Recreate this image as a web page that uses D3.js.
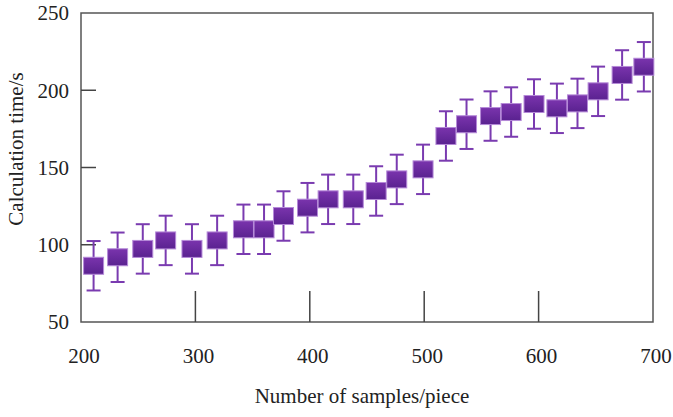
<!DOCTYPE html>
<html>
<head>
<meta charset="utf-8">
<script src="https://cdn.jsdelivr.net/npm/d3@7"></script>
<style>
    body { margin: 0; background: #fff; }
    svg { display: block; }
    text { font-family: 'Liberation Serif', 'Times New Roman', Times, serif; fill: #222; }
    .frame { fill: none; stroke: #555; stroke-width: 1.5; }
    .tick-mark { stroke: #444; stroke-width: 1.5; }
    .err { stroke: #7a3bb0; stroke-width: 2; fill: none; }
    .box { stroke: #b58ad8; stroke-width: 1; }
</style>
</head>
<body>
<svg id="chart" width="673" height="417">
    <defs>
        <linearGradient id="boxGrad" x1="0" y1="0" x2="0" y2="1">
            <stop offset="0" stop-color="#7a34ad"></stop>
            <stop offset="1" stop-color="#5a2290"></stop>
        </linearGradient>
    </defs>
    <g class="chart"></g>
</svg>
<script>
// samples per piece (x), mean calculation time (y), +/- spread
const samples = [211, 232, 254, 274, 297, 319, 342, 360, 377, 398, 416, 438, 458, 476, 499,
                 519, 537, 558, 576, 596, 616, 634, 652, 673, 692];
const calcTime = [86.4, 91.9, 97.3, 102.8, 97.3, 102.8, 110, 110, 118.6, 124, 129.4, 129.4, 134.8, 142.3, 148.8,
                  170.4, 178, 183.3, 185.9, 191.1, 188.3, 191.5, 199.3, 209.9, 215.2];
const spread = [16, 16, 16, 16, 16, 16, 16, 16, 16, 16, 16, 16, 16, 16, 16,
                16, 16, 16, 16, 16, 16, 16, 16, 16, 16];
const xTicks = [200, 300, 400, 500, 600, 700];
const yTicks = [50, 100, 150, 200, 250];

const margin = {top: 13, right: 20, bottom: 95, left: 81};
const width = 673 - margin.left - margin.right;
const height = 417 - margin.top - margin.bottom;
const fontSize = '21px';

const chart = d3.select('#chart').select('.chart')
    .attr('transform', 'translate(' + margin.left + ',' + margin.top + ')');

const xScale = d3.scaleLinear().domain([200, 700]).range([0, width]);
const yScale = d3.scaleLinear().domain([50, 250]).range([height, 0]);

// frame
chart.append('rect').attr('class', 'frame')
    .attr('x', 0).attr('y', 0).attr('width', width).attr('height', height);

// inward ticks
chart.selectAll('.xt').data(xTicks.slice(1, -1)).enter().append('line')
    .attr('class', 'tick-mark')
    .attr('x1', d => xScale(d)).attr('x2', d => xScale(d))
    .attr('y1', height).attr('y2', height - 31);
chart.selectAll('.yt').data(yTicks.slice(1, -1)).enter().append('line')
    .attr('class', 'tick-mark')
    .attr('x1', 0).attr('x2', 15)
    .attr('y1', d => yScale(d)).attr('y2', d => yScale(d));

// tick labels
chart.selectAll('.xl').data(xTicks).enter().append('text')
    .attr('x', d => xScale(d) + 3).attr('y', height + 41)
    .attr('text-anchor', 'middle').style('font-size', fontSize)
    .text(d => d);
chart.selectAll('.yl').data(yTicks).enter().append('text')
    .attr('x', -12).attr('y', d => yScale(d)).attr('dy', '0.35em')
    .attr('text-anchor', 'end').style('font-size', fontSize)
    .text(d => d);

// titles
chart.append('text')
    .attr('x', 362 - margin.left).attr('y', 403 - margin.top)
    .attr('text-anchor', 'middle').style('font-size', fontSize)
    .text('Number of samples/piece');
chart.append('text')
    .attr('transform', 'translate(' + (23 - margin.left) + ',' + (149 - margin.top) + ') rotate(-90)')
    .attr('text-anchor', 'middle').style('font-size', fontSize)
    .text('Calculation time/s');

const vals = samples.map((s, i) => ({x: s, y: calcTime[i], e: spread[i]}));

// error bars
const bars = chart.append('g').selectAll('g').data(vals).enter().append('g');
bars.append('line').attr('class', 'err')
    .attr('x1', d => xScale(d.x)).attr('x2', d => xScale(d.x))
    .attr('y1', d => yScale(d.y + d.e)).attr('y2', d => yScale(d.y - d.e));
bars.append('line').attr('class', 'err')
    .attr('x1', d => xScale(d.x) - 7).attr('x2', d => xScale(d.x) + 7)
    .attr('y1', d => yScale(d.y + d.e)).attr('y2', d => yScale(d.y + d.e));
bars.append('line').attr('class', 'err')
    .attr('x1', d => xScale(d.x) - 7).attr('x2', d => xScale(d.x) + 7)
    .attr('y1', d => yScale(d.y - d.e)).attr('y2', d => yScale(d.y - d.e));

// square markers
chart.append('g').selectAll('rect').data(vals).enter().append('rect')
    .attr('class', 'box')
    .attr('fill', 'url(#boxGrad)')
    .attr('x', d => xScale(d.x) - 10).attr('y', d => yScale(d.y) - 8.5)
    .attr('width', 20).attr('height', 17);
</script>
</body>
</html>
